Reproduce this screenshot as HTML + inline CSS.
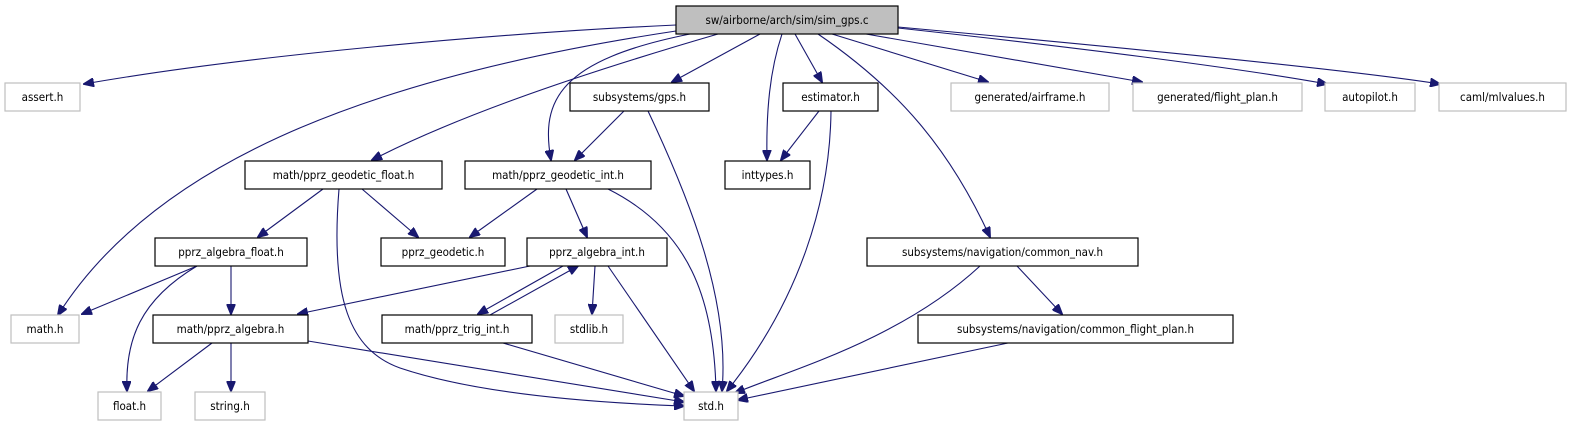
<!DOCTYPE html>
<html><head><meta charset="utf-8"><style>
html,body{margin:0;padding:0;background:#fff;}
svg{display:block;}
text{font-family:"DejaVu Sans Condensed","Liberation Sans",sans-serif;font-size:11.5px;fill:#000;}
.b{fill:#fff;stroke:#000;stroke-width:1.2;}
.g{fill:#fff;stroke:#bfbfbf;stroke-width:1.2;}
.r{fill:#bfbfbf;stroke:#000;stroke-width:1.2;}
path{fill:none;stroke:#191970;stroke-width:1.1;marker-end:url(#a);}
</style></head><body>
<svg width="1571" height="427" viewBox="0 0 1571 427">
<defs><marker id="a" markerWidth="11" markerHeight="9" refX="10" refY="4.5" orient="auto" markerUnits="userSpaceOnUse"><path d="M0,0 L11,4.5 L0,9 Z" style="fill:#191970;stroke:#191970;marker-end:none"/></marker></defs>
<path d="M676,25 C500,33 250,55 84,84"/>
<path d="M676,31 C350,80 150,170 58,315"/>
<path d="M718,34 C560,80 450,120 372,160"/>
<path d="M690,34 C560,60 540,100 551,160"/>
<path d="M760,34 L672,82"/>
<path d="M782,34 C770,70 766,110 767,160"/>
<path d="M795,34 L822,82"/>
<path d="M818,34 C900,90 950,150 990,237"/>
<path d="M832,34 L988,82"/>
<path d="M866,34 L1142,82"/>
<path d="M898,28 C1100,50 1250,70 1327,84"/>
<path d="M898,27 C1150,50 1350,70 1440,84"/>
<path d="M624,111 L575,160"/>
<path d="M648,111 C690,200 730,300 722,391"/>
<path d="M819,111 L781,160"/>
<path d="M831,111 C830,200 800,300 727,391"/>
<path d="M323,189 L258,237"/>
<path d="M362,189 L418,237"/>
<path d="M339,189 C330,300 350,350 400,368 C480,395 600,403 684,406"/>
<path d="M537,189 L470,237"/>
<path d="M566,189 L587,237"/>
<path d="M608,189 C690,230 714,300 716,391"/>
<path d="M197,266 L82,314"/>
<path d="M197,266 C140,300 125,340 127,391"/>
<path d="M231,266 L231,314"/>
<path d="M530,266 L298,314"/>
<path d="M563,266 L478,314"/>
<path d="M490,315 L578,266"/>
<path d="M595,266 L592,314"/>
<path d="M608,266 L694,391"/>
<path d="M980,266 C900,340 790,370 735,393"/>
<path d="M1017,266 L1062,314"/>
<path d="M1008,343 L738,400"/>
<path d="M212,343 L148,391"/>
<path d="M231,343 L231,391"/>
<path d="M308,341 L684,402"/>
<path d="M503,343 L684,396"/>

<rect class="r" x="676" y="6" width="222" height="28"/><text x="787" y="24" text-anchor="middle">sw/airborne/arch/sim/sim_gps.c</text>
<rect class="g" x="5" y="83" width="75" height="28"/><text x="42.5" y="101" text-anchor="middle">assert.h</text>
<rect class="b" x="570" y="83" width="139" height="28"/><text x="639.5" y="101" text-anchor="middle">subsystems/gps.h</text>
<rect class="b" x="783" y="83" width="95" height="28"/><text x="830.5" y="101" text-anchor="middle">estimator.h</text>
<rect class="g" x="951" y="83" width="158" height="28"/><text x="1030" y="101" text-anchor="middle">generated/airframe.h</text>
<rect class="g" x="1133" y="83" width="169" height="28"/><text x="1217.5" y="101" text-anchor="middle">generated/flight_plan.h</text>
<rect class="g" x="1325" y="83" width="90" height="28"/><text x="1370" y="101" text-anchor="middle">autopilot.h</text>
<rect class="g" x="1439" y="83" width="127" height="28"/><text x="1502.5" y="101" text-anchor="middle">caml/mlvalues.h</text>
<rect class="b" x="245" y="161" width="197" height="28"/><text x="343.5" y="179" text-anchor="middle">math/pprz_geodetic_float.h</text>
<rect class="b" x="465" y="161" width="186" height="28"/><text x="558" y="179" text-anchor="middle">math/pprz_geodetic_int.h</text>
<rect class="b" x="725" y="161" width="85" height="28"/><text x="767.5" y="179" text-anchor="middle">inttypes.h</text>
<rect class="b" x="155" y="238" width="152" height="28"/><text x="231" y="256" text-anchor="middle">pprz_algebra_float.h</text>
<rect class="b" x="381" y="238" width="124" height="28"/><text x="443" y="256" text-anchor="middle">pprz_geodetic.h</text>
<rect class="b" x="527" y="238" width="140" height="28"/><text x="597" y="256" text-anchor="middle">pprz_algebra_int.h</text>
<rect class="b" x="867" y="238" width="271" height="28"/><text x="1002.5" y="256" text-anchor="middle">subsystems/navigation/common_nav.h</text>
<rect class="g" x="11" y="315" width="68" height="28"/><text x="45" y="333" text-anchor="middle">math.h</text>
<rect class="b" x="153" y="315" width="155" height="28"/><text x="230.5" y="333" text-anchor="middle">math/pprz_algebra.h</text>
<rect class="b" x="382" y="315" width="150" height="28"/><text x="457" y="333" text-anchor="middle">math/pprz_trig_int.h</text>
<rect class="g" x="555" y="315" width="68" height="28"/><text x="589" y="333" text-anchor="middle">stdlib.h</text>
<rect class="b" x="918" y="315" width="315" height="28"/><text x="1075.5" y="333" text-anchor="middle">subsystems/navigation/common_flight_plan.h</text>
<rect class="g" x="98" y="392" width="63" height="28"/><text x="129.5" y="410" text-anchor="middle">float.h</text>
<rect class="g" x="195" y="392" width="70" height="28"/><text x="230" y="410" text-anchor="middle">string.h</text>
<rect class="g" x="684" y="392" width="54" height="28"/><text x="711" y="410" text-anchor="middle">std.h</text>
</svg>
</body></html>
